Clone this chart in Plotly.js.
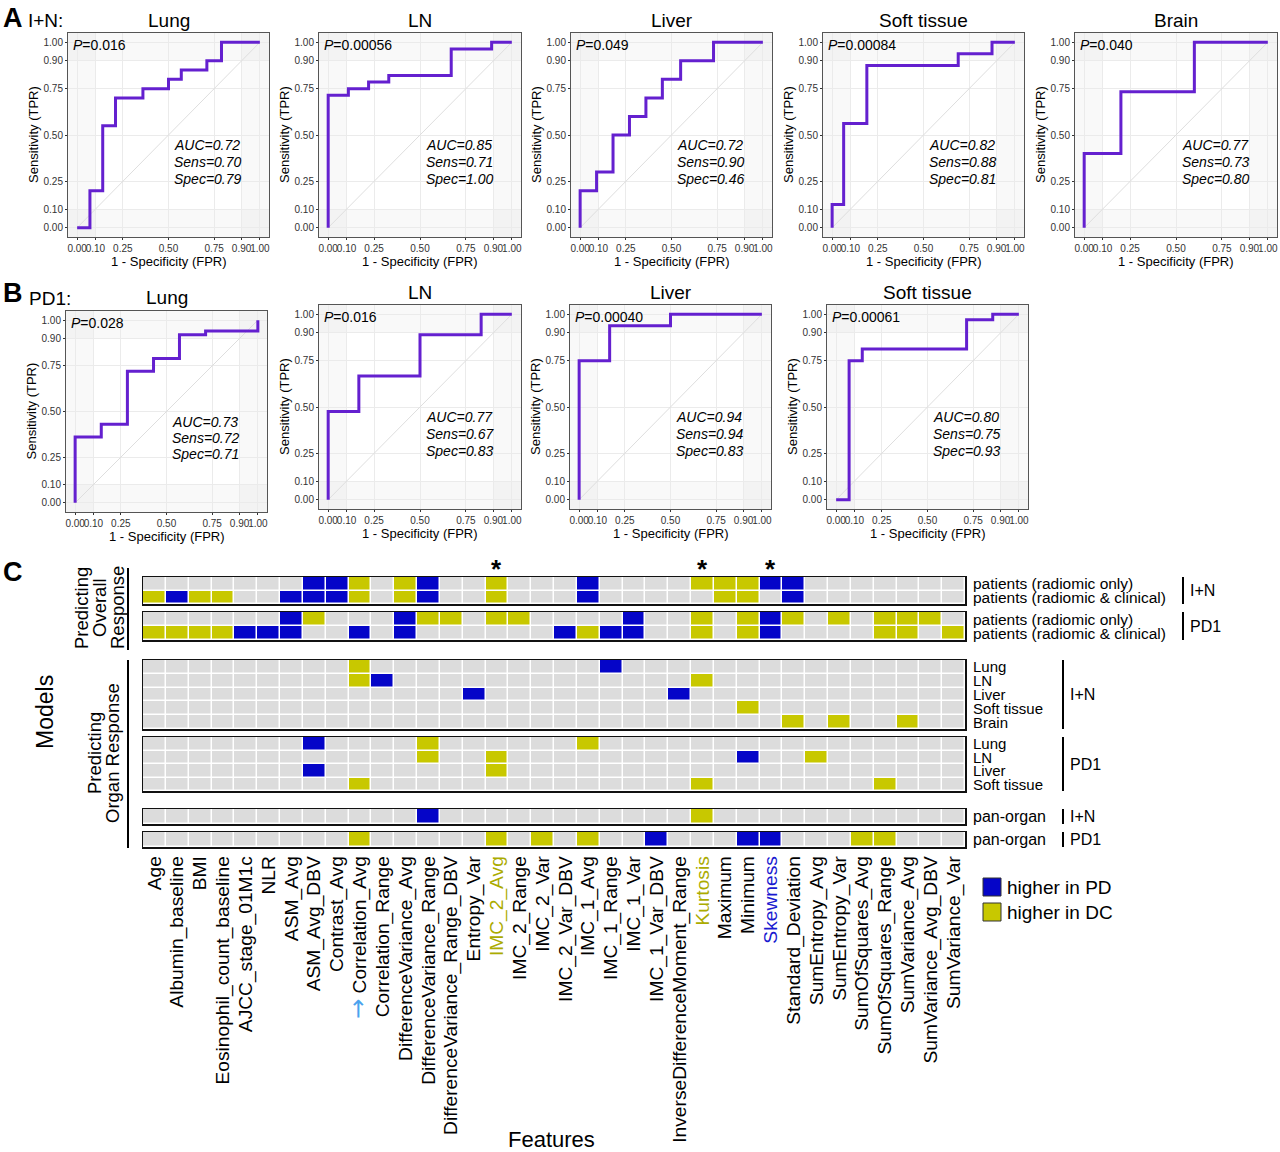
<!DOCTYPE html>
<html><head><meta charset="utf-8">
<script src="https://cdn.plot.ly/plotly-3.0.1.min.js"></script>
<style>html,body{margin:0;padding:0;background:#fff}#chart{width:1280px;height:1152px}</style>
</head><body><div id="chart"></div>
<script>
// ---------------- DATA ----------------
const rocTitles = ['Lung','LN','Liver','Soft tissue','Brain','Lung','LN','Liver','Soft tissue'];
const rocTickVals = [0,0.1,0.25,0.5,0.75,0.9,1];
const rocTickText = ['0.00','0.10','0.25','0.50','0.75','0.90','1.00'];

const inLungFpr  = [0,0.07,0.14,0.21,0.36,0.50,0.57,0.71,0.79,1];
const inLungTpr  = [0,0.20,0.55,0.70,0.75,0.80,0.85,0.90,1,1];
const inLNFpr    = [0,0,0.11,0.22,0.33,0.67,0.89,1];
const inLNTpr    = [0,0.714,0.75,0.786,0.821,0.964,1,1];
const inLiverFpr = [0,0,0.09,0.18,0.27,0.36,0.45,0.55,0.73,1];
const inLiverTpr = [0,0.2,0.3,0.5,0.6,0.7,0.8,0.9,1,1];
const inSoftFpr  = [0,0,0.063,0.19,0.69,0.875,1];
const inSoftTpr  = [0,0.125,0.5625,0.875,0.9375,1,1];
const inBrainFpr = [0,0,0.2,0.6,1];
const inBrainTpr = [0,0.4,0.733,1,1];
const pdLungFpr  = [0,0,0.143,0.286,0.429,0.571,0.714,1];
const pdLungTpr  = [0,0.36,0.43,0.72,0.79,0.92,0.94,1];
const pdLNFpr    = [0,0,0.167,0.5,0.833,1];
const pdLNTpr    = [0,0.476,0.667,0.889,1,1];
const pdLiverFpr = [0,0,0.167,0.5,1];
const pdLiverTpr = [0,0.75,0.9375,1,1];
const pdSoftFpr  = [0,0.071,0.143,0.714,0.857,1];
const pdSoftTpr  = [0,0.75,0.8125,0.97,1,1];

const pValues    = ['0.016','0.00056','0.049','0.00084','0.040','0.028','0.016','0.00040','0.00061'];
const aucValues  = ['0.72','0.85','0.72','0.82','0.77','0.73','0.77','0.94','0.80'];
const sensValues = ['0.70','0.71','0.90','0.88','0.73','0.72','0.67','0.94','0.75'];
const specValues = ['0.79','1.00','0.46','0.81','0.80','0.71','0.83','0.83','0.93'];

const features = ['Age','Albumin_baseline','BMI','Eosinophil_count_baseline','AJCC_stage_01M1c','NLR',
 'ASM_Avg','ASM_Avg_DBV','Contrast_Avg','Correlation_Avg','Correlation_Range','DifferenceVariance_Avg',
 'DifferenceVariance_Range','DifferenceVariance_Range_DBV','Entropy_Var','IMC_2_Avg','IMC_2_Range','IMC_2_Var',
 'IMC_2_Var_DBV','IMC_1_Avg','IMC_1_Range','IMC_1_Var','IMC_1_Var_DBV','InverseDifferenceMoment_Range',
 'Kurtosis','Maximum','Minimum','Skewness','Standard_Deviation','SumEntropy_Avg','SumEntropy_Var',
 'SumOfSquares_Avg','SumOfSquares_Range','SumVariance_Avg','SumVariance_Avg_DBV','SumVariance_Var'];
const starredFeatures = ['IMC_2_Avg','Kurtosis','Skewness'];
// 0 = not selected, 1 = higher in PD, 2 = higher in DC
const inRadiomicOnly     = [0,0,0,0,0,0,0,1,1,2,0,2,1,0,0,2,0,0,0,1,0,0,0,0,2,2,2,1,1,0,0,0,0,0,0,0];
const inRadiomicClinical = [2,1,2,2,0,0,1,1,1,2,0,2,1,0,0,2,0,0,0,1,0,0,0,0,0,2,2,0,1,0,0,0,0,0,0,0];
const pdRadiomicOnly     = [0,0,0,0,0,0,1,2,0,0,0,1,2,2,0,2,2,0,0,0,0,1,0,0,2,0,2,1,2,0,2,0,2,2,2,0];
const pdRadiomicClinical = [2,2,2,2,1,1,1,0,0,1,0,1,0,0,0,0,0,0,1,2,1,1,0,0,2,0,2,1,0,0,0,0,2,2,0,2];
const inLungSel  = [0,0,0,0,0,0,0,0,0,2,0,0,0,0,0,0,0,0,0,0,1,0,0,0,0,0,0,0,0,0,0,0,0,0,0,0];
const inLNSel    = [0,0,0,0,0,0,0,0,0,2,1,0,0,0,0,0,0,0,0,0,0,0,0,0,2,0,0,0,0,0,0,0,0,0,0,0];
const inLiverSel = [0,0,0,0,0,0,0,0,0,0,0,0,0,0,1,0,0,0,0,0,0,0,0,1,0,0,0,0,0,0,0,0,0,0,0,0];
const inSoftSel  = [0,0,0,0,0,0,0,0,0,0,0,0,0,0,0,0,0,0,0,0,0,0,0,0,0,0,2,0,0,0,0,0,0,0,0,0];
const inBrainSel = [0,0,0,0,0,0,0,0,0,0,0,0,0,0,0,0,0,0,0,0,0,0,0,0,0,0,0,0,2,0,2,0,0,2,0,0];
const pdLungSel  = [0,0,0,0,0,0,0,1,0,0,0,0,2,0,0,0,0,0,0,2,0,0,0,0,0,0,0,0,0,0,0,0,0,0,0,0];
const pdLNSel    = [0,0,0,0,0,0,0,0,0,0,0,0,2,0,0,2,0,0,0,0,0,0,0,0,0,0,1,0,0,2,0,0,0,0,0,0];
const pdLiverSel = [0,0,0,0,0,0,0,1,0,0,0,0,0,0,0,2,0,0,0,0,0,0,0,0,0,0,0,0,0,0,0,0,0,0,0,0];
const pdSoftSel  = [0,0,0,0,0,0,0,0,0,2,0,0,0,0,0,0,0,0,0,0,0,0,0,0,2,0,0,0,0,0,0,0,2,0,0,0];
const inPanSel   = [0,0,0,0,0,0,0,0,0,0,0,0,1,0,0,0,0,0,0,0,0,0,0,0,2,0,0,0,0,0,0,0,0,0,0,0];
const pdPanSel   = [0,0,0,0,0,0,0,0,0,2,0,0,0,0,0,2,0,2,0,2,0,0,1,0,0,0,1,1,0,0,0,2,2,0,0,0];

// ---------------- LAYOUT HELPERS ----------------
const W = 1280, H = 1152;
const FONT = 'Arial, "Liberation Sans", sans-serif';
const px = v => v / W;
const py = v => 1 - v / H;
const CURVE = '#6420cf';
const GRAY = '#dcdcdc', BLUE = '#0505c8', YEL = '#c8c800';

const rocBoxes = [
  {x0:68,x1:269,y0:33,y1:237,ty:20},
  {x0:319,x1:521,y0:33,y1:237,ty:20},
  {x0:571,x1:772,y0:33,y1:237,ty:20},
  {x0:823,x1:1024,y0:33,y1:237,ty:20},
  {x0:1075,x1:1277,y0:33,y1:237,ty:20},
  {x0:66,x1:267,y0:311,y1:512,ty:297},
  {x0:319,x1:521,y0:305,y1:509,ty:292},
  {x0:570,x1:771,y0:305,y1:509,ty:292},
  {x0:827,x1:1028,y0:305,y1:509,ty:292}
];
const rocData = [
  [inLungFpr,inLungTpr],[inLNFpr,inLNTpr],[inLiverFpr,inLiverTpr],[inSoftFpr,inSoftTpr],[inBrainFpr,inBrainTpr],
  [pdLungFpr,pdLungTpr],[pdLNFpr,pdLNTpr],[pdLiverFpr,pdLiverTpr],[pdSoftFpr,pdSoftTpr]
];

const data = [];
const layout = {
  width: W, height: H, margin:{l:0,r:0,t:0,b:0},
  paper_bgcolor:'#fff', plot_bgcolor:'#fff', showlegend:false,
  font:{family:FONT, color:'#000'},
  annotations:[], shapes:[]
};
const A = layout.annotations, S = layout.shapes;
function ann(o){ A.push(Object.assign({showarrow:false, xref:'paper', yref:'paper', xanchor:'center', yanchor:'middle',
  font:{family:FONT,size:16,color:'#000'}}, o)); }

rocBoxes.forEach((b,i) => {
  const k = i+1, xa = 'x'+(k===1?'':k), ya = 'y'+(k===1?'':k);
  const axBase = {range:[-0.05,1.05], tickvals:rocTickVals, ticktext:rocTickText, tickangle:0,
    tickfont:{family:FONT,size:10,color:'#333'}, ticks:'outside', ticklen:2, tickcolor:'#333',
    showgrid:true, gridcolor:'#ebebeb', gridwidth:1, zeroline:false,
    showline:true, mirror:true, linecolor:'#555', linewidth:1, fixedrange:true};
  layout['xaxis'+(k===1?'':k)] = Object.assign({}, axBase, {domain:[px(b.x0),px(b.x1)], anchor:ya});
  layout['yaxis'+(k===1?'':k)] = Object.assign({}, axBase, {domain:[py(b.y1),py(b.y0)], anchor:xa});
  [[-0.05,0.1],[0.9,1.05]].forEach(r => {
    S.push({type:'rect', xref:xa, yref:ya, x0:r[0], x1:r[1], y0:-0.05, y1:1.05, fillcolor:'rgba(0,0,0,0.025)', line:{width:0}, layer:'below'});
    S.push({type:'rect', xref:xa, yref:ya, x0:-0.05, x1:1.05, y0:r[0], y1:r[1], fillcolor:'rgba(0,0,0,0.025)', line:{width:0}, layer:'below'});
  });
  data.push({type:'scatter', mode:'lines', x:[0,1], y:[0,1], xaxis:xa, yaxis:ya, line:{color:'#dedede',width:1}, hoverinfo:'skip'});
  data.push({type:'scatter', mode:'lines', x:rocData[i][0], y:rocData[i][1], xaxis:xa, yaxis:ya,
             line:{color:CURVE,width:3,shape:'hv'}, hoverinfo:'skip'});
  const cx = (b.x0+b.x1)/2;
  ann({x:px(cx), y:py(b.ty), text:rocTitles[i], font:{family:FONT,size:19,color:'#000'}});
  ann({x:px(b.x0-35), y:py((b.y0+b.y1)/2), text:'Sensitivity (TPR)', textangle:-90, font:{family:FONT,size:13,color:'#000'}});
  ann({x:px(cx), y:py(b.y1+24), text:'1 - Specificity (FPR)', font:{family:FONT,size:13,color:'#000'}});
  ann({xref:xa, yref:ya, x:-0.035, y:0.985, xanchor:'left', text:'<i>P</i>=' + pValues[i], font:{family:FONT,size:14,color:'#000'}});
  ann({xref:xa, yref:ya, x:0.52, y:0.445, xanchor:'left', text:'<i>AUC=' + aucValues[i] + '</i>', font:{family:FONT,size:14,color:'#000'}});
  ann({xref:xa, yref:ya, x:0.52, y:0.355, xanchor:'left', text:'<i>Sens=' + sensValues[i] + '</i>', font:{family:FONT,size:14,color:'#000'}});
  ann({xref:xa, yref:ya, x:0.52, y:0.265, xanchor:'left', text:'<i>Spec=' + specValues[i] + '</i>', font:{family:FONT,size:14,color:'#000'}});
});

ann({x:px(1), y:py(18), xanchor:'left', text:'<b>A</b>', font:{family:FONT,size:27,color:'#000'}});
ann({x:px(26), y:py(21), xanchor:'left', text:'I+N:', font:{family:FONT,size:19,color:'#000'}});
ann({x:px(1), y:py(293), xanchor:'left', text:'<b>B</b>', font:{family:FONT,size:27,color:'#000'}});
ann({x:px(27), y:py(298), xanchor:'left', text:'PD1:', font:{family:FONT,size:19,color:'#000'}});
ann({x:px(1), y:py(572), xanchor:'left', text:'<b>C</b>', font:{family:FONT,size:27,color:'#000'}});

// ---------------- HEATMAP BLOCKS ----------------
const hmBlocks = [
  {rows:[inRadiomicOnly,inRadiomicClinical], labels:['patients (radiomic only)','patients (radiomic & clinical)'], y0:577, y1:604, group:'I+N', bx:1183, fs:15.5},
  {rows:[pdRadiomicOnly,pdRadiomicClinical], labels:['patients (radiomic only)','patients (radiomic & clinical)'], y0:612, y1:640, group:'PD1', bx:1183, fs:15.5},
  {rows:[inLungSel,inLNSel,inLiverSel,inSoftSel,inBrainSel], labels:['Lung','LN','Liver','Soft tissue','Brain'], y0:660, y1:729, group:'I+N', bx:1063, fs:15},
  {rows:[pdLungSel,pdLNSel,pdLiverSel,pdSoftSel], labels:['Lung','LN','Liver','Soft tissue'], y0:737, y1:791, group:'PD1', bx:1063, fs:15},
  {rows:[inPanSel], labels:['pan-organ'], y0:809, y1:824, group:'I+N', bx:1063, fs:16},
  {rows:[pdPanSel], labels:['pan-organ'], y0:832, y1:847, group:'PD1', bx:1063, fs:16}
];
const HX0 = 143, HX1 = 965;
const colorLabel = {'IMC_2_Avg':'#abab00','Kurtosis':'#abab00','Skewness':'#1a1ad0'};
const tickText = features.map(f => {
  if (f === 'Correlation_Avg') return '<span style="color:#4aa3ee;font-family:DejaVu Sans;font-size:24px">\u2192</span> ' + f;
  if (colorLabel[f]) return '<span style="color:' + colorLabel[f] + '">' + f + '</span>';
  return f;
});
const idx = features.map((f,i) => i);

hmBlocks.forEach((blk,j) => {
  const k = 10 + j, xa = 'x'+k, ya = 'y'+k;
  const n = blk.rows.length;
  data.push({type:'heatmap', z:blk.rows, x:idx, y:blk.rows.map((r,i)=>i), xaxis:xa, yaxis:ya,
    zmin:0, zmax:2, showscale:false, xgap:1.5, ygap:1.5, hoverinfo:'skip',
    colorscale:[[0,GRAY],[0.33,GRAY],[0.34,BLUE],[0.66,BLUE],[0.67,YEL],[1,YEL]]});
  const last = (j === hmBlocks.length-1);
  layout['xaxis'+k] = {domain:[px(HX0),px(HX1)], range:[-0.5,35.5], anchor:ya, showgrid:false, zeroline:false,
    showline:true, mirror:true, linecolor:'#111', linewidth:1.5, ticks:'', fixedrange:true,
    showticklabels:last, tickvals:idx, ticktext:tickText, tickangle:-90,
    tickfont:{family:FONT,size:19.2,color:'#000'}};
  layout['yaxis'+k] = {domain:[py(blk.y1),py(blk.y0)], range:[n-0.5,-0.5], anchor:xa, showgrid:false, zeroline:false,
    showline:true, mirror:true, linecolor:'#111', linewidth:1.5, ticks:'', showticklabels:false, fixedrange:true};
  const rh = (blk.y1-blk.y0)/n;
  blk.labels.forEach((lab,i) => {
    ann({x:px(971), y:py(blk.y0 + rh*(i+0.5)), xanchor:'left', text:lab, font:{family:FONT,size:blk.fs,color:'#000'}});
  });
  S.push({type:'line', xref:'paper', yref:'paper', x0:px(blk.bx), x1:px(blk.bx), y0:py(blk.y0), y1:py(blk.y1), line:{color:'#000',width:2}});
  ann({x:px(blk.bx+5), y:py((blk.y0+blk.y1)/2), xanchor:'left', text:blk.group, font:{family:FONT,size:16,color:'#000'}});
});

starredFeatures.forEach(f => {
  ann({xref:'x10', x:features.indexOf(f), y:py(569), text:'<b>*</b>', font:{family:FONT,size:26,color:'#000'}});
});

ann({x:px(81), y:py(608), text:'Predicting', textangle:-90, font:{family:FONT,size:18.5,color:'#000'}});
ann({x:px(99), y:py(608), text:'Overall', textangle:-90, font:{family:FONT,size:18.5,color:'#000'}});
ann({x:px(117), y:py(608), text:'Response', textangle:-90, font:{family:FONT,size:18.5,color:'#000'}});
S.push({type:'line', xref:'paper', yref:'paper', x0:px(128), x1:px(128), y0:py(568), y1:py(650), line:{color:'#000',width:2}});
ann({x:px(94), y:py(753), text:'Predicting', textangle:-90, font:{family:FONT,size:18.5,color:'#000'}});
ann({x:px(112), y:py(753), text:'Organ Response', textangle:-90, font:{family:FONT,size:18.5,color:'#000'}});
S.push({type:'line', xref:'paper', yref:'paper', x0:px(128), x1:px(128), y0:py(660), y1:py(848), line:{color:'#000',width:2}});
ann({x:px(45), y:py(712), text:'Models', textangle:-90, font:{family:FONT,size:23,color:'#000'}});
ann({x:px(551), y:py(1139), text:'Features', font:{family:FONT,size:22,color:'#000'}});

S.push({type:'rect', xref:'paper', yref:'paper', x0:px(983), x1:px(1001), y0:py(896), y1:py(878), fillcolor:BLUE, line:{color:'#333',width:1}});
S.push({type:'rect', xref:'paper', yref:'paper', x0:px(983), x1:px(1001), y0:py(921), y1:py(903), fillcolor:YEL, line:{color:'#333',width:1}});
ann({x:px(1005), y:py(887), xanchor:'left', text:'higher in PD', font:{family:FONT,size:19,color:'#000'}});
ann({x:px(1005), y:py(912), xanchor:'left', text:'higher in DC', font:{family:FONT,size:19,color:'#000'}});

Plotly.newPlot('chart', data, layout, {staticPlot:true, displayModeBar:false});
</script></body></html>
